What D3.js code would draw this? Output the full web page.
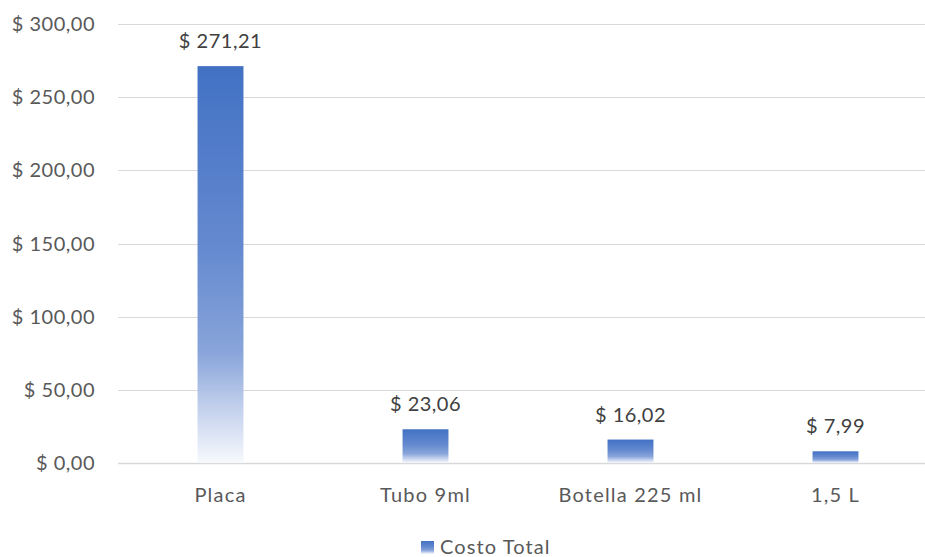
<!DOCTYPE html>
<html><head><meta charset="utf-8">
<script src="https://cdn.jsdelivr.net/npm/d3@7"></script>
<style>body{margin:0;background:#fff}svg{display:block;font-family:Lato,"Open Sans",sans-serif}</style>
</head><body><svg id="c" width="925" height="557"></svg>
<script>
const categories = ["Placa", "Tubo 9ml", "Botella 225 ml", "1,5 L"];
const values = [271.21, 23.06, 16.02, 7.99];
const yTicks = [0, 50, 100, 150, 200, 250, 300];
const seriesName = "Costo Total";

const locale = d3.formatLocale({decimal: ",", thousands: ".", grouping: [3], currency: ["$ ", ""]});
const fmt = locale.format("$,.2f");

const svg = d3.select("#c");
const x = d3.scaleBand().domain(categories).range([118, 938]).paddingInner(0.776).paddingOuter(0.388);
const y = d3.scaleLinear().domain([0, 300]).range([463, 24]);

const defs = svg.append("defs");
const g = defs.append("linearGradient").attr("id", "grad").attr("x1", 0).attr("y1", 0).attr("x2", 0).attr("y2", 1);
[[0, "#4271c4"], [0.45, "#6489cf"], [0.72, "#88a4da"], [0.86, "#c2d0ec"], [1, "#f7f9fd"]].forEach(([o, c]) =>
  g.append("stop").attr("offset", o).attr("stop-color", c));

// gridlines
svg.append("g").selectAll("line").data(yTicks).join("line")
  .attr("x1", 118).attr("x2", 925)
  .attr("y1", d => Math.round(y(d)) + 0.5).attr("y2", d => Math.round(y(d)) + 0.5)
  .attr("stroke", "#d9d9d9").attr("stroke-width", d => d === 0 ? 1.6 : 1.2);

// y axis labels
const yAxis = d3.axisLeft(y).tickValues(yTicks).tickFormat(fmt).tickSize(0).tickPadding(0);
const ya = svg.append("g").attr("transform", "translate(95,0)").call(yAxis);
ya.select(".domain").remove();
ya.selectAll("text").attr("font-size", 20).attr("letter-spacing", 0.5).attr("fill", "#595959")
  .attr("font-family", "Lato,sans-serif").attr("dy", "0.33em");

// bars
svg.append("g").selectAll("rect").data(values).join("rect")
  .attr("x", (d, i) => x(categories[i])).attr("width", x.bandwidth())
  .attr("y", d => y(d)).attr("height", d => y(0) - y(d))
  .attr("fill", "url(#grad)");

// data labels
svg.append("g").selectAll("text").data(values).join("text")
  .attr("x", (d, i) => x(categories[i]) + x.bandwidth() / 2)
  .attr("y", d => y(d) - 18)
  .attr("text-anchor", "middle").attr("font-size", 20).attr("letter-spacing", 0.5).attr("fill", "#404040")
  .text(d => fmt(d));

// x axis labels
const xAxis = d3.axisBottom(x).tickSize(0).tickPadding(0);
const xa = svg.append("g").attr("transform", "translate(0,502)").call(xAxis);
xa.select(".domain").remove();
xa.selectAll("text").attr("font-size", 20).attr("letter-spacing", 1.2).attr("fill", "#595959")
  .attr("font-family", "Lato,sans-serif").attr("dy", "0").attr("y", 0);

// legend
const lg = svg.append("g");
lg.append("rect").attr("x", 421).attr("y", 541).attr("width", 13).attr("height", 13).attr("fill", "url(#grad)");
lg.append("text").attr("x", 440).attr("y", 554).attr("font-size", 20).attr("letter-spacing", 1.1).attr("fill", "#595959").text(seriesName);
</script></body></html>
